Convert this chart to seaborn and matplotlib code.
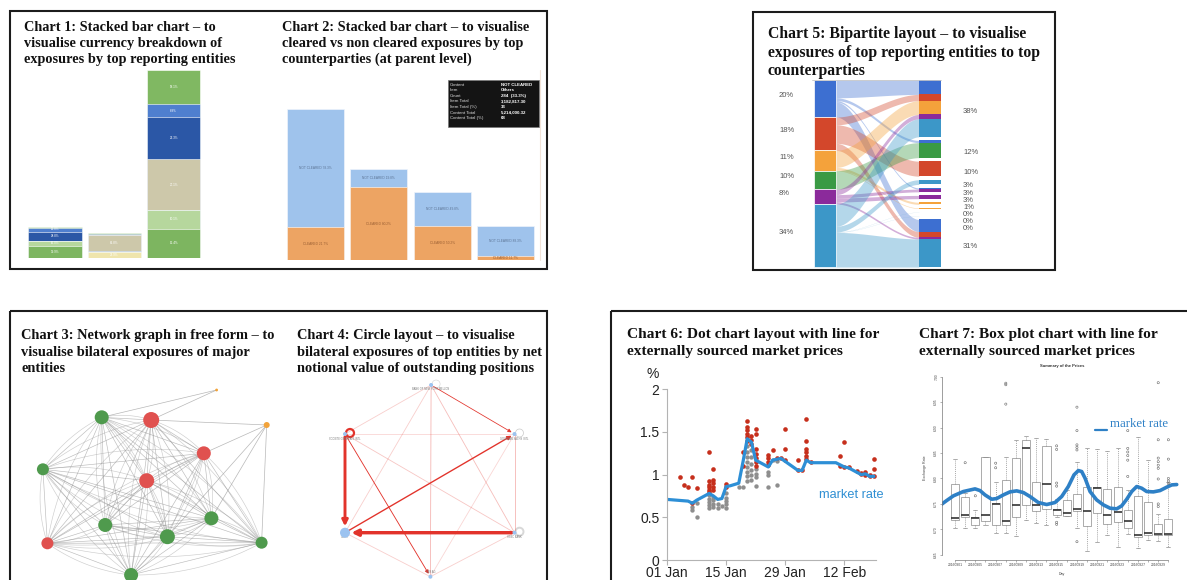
import numpy as np
import pandas as pd
import matplotlib
matplotlib.use("Agg")
import matplotlib.pyplot as plt
import matplotlib.dates as mdates
from matplotlib.patches import Rectangle, Circle
import seaborn as sns
from itertools import combinations

# ---------------- Chart 1: currency breakdown by reporting entity ----------------
entities = ["Entity A", "Entity B", "Entity C"]
currencies = ["CAD", "EUR", "GBP", "AUD", "USD", "JPY", "CHF", "Other"]
ccy_colors = ["#efe5ad", "#7db560", "#b6d79d", "#4f83d6", "#cdc8aa", "#2b57a6", "#4f7fcf", "#80b862"]
exp_cad = [0, 6, 0]
exp_eur = [12.5, 0, 29]
exp_gbp = [5, 0, 19]
exp_aud = [0, 1.5, 0]
exp_usd = [0, 15.5, 51]
exp_jpy = [9, 0, 42]
exp_chf = [4, 1.5, 13]
exp_oth = [0.8, 0.6, 34]

# ---------------- Chart 2: cleared vs non cleared ----------------
counterparties = ["CP 1", "CP 2", "CP 3", "Others"]
cleared = [3.27, 7.27, 3.43, 0.40]
not_cleared = [11.80, 1.80, 3.40, 3.03]
tip_keys = ["Content", "Item", "Count", "Item Total", "Item Total (%)", "Content Total", "Content Total (%)"]
tip_vals = ["NOT CLEARED", "Others", "284  (33.3%)", "3,182,817.30", "33", "5,214,000.32", "68"]

# ---------------- Chart 5: bipartite flows ----------------
src_labels = ["20%", "18%", "11%", "10%", "8%", "34%"]
src_values = [20, 18, 11, 10, 8, 34]
src_colors = ["#3d6fd1", "#d3472b", "#f4a23b", "#3a9a44", "#8b2a9b", "#3c97c8"]
tgt_labels = ["38%", "12%", "10%", "3%", "3%", "3%", "1%", "0%", "0%", "0%", "31%"]
flow_src = [0, 0, 0, 0, 1, 1, 1, 2, 2, 2, 3, 4, 4, 4, 4, 5, 5, 5, 5, 5]
flow_tgt = [0, 1, 4, 10, 0, 2, 10, 0, 6, 7, 1, 0, 4, 5, 10, 0, 3, 8, 9, 10]
flow_val = [9.6, 1.5, 0.8, 8.1, 4.2, 10.0, 3.8, 9.2, 1.4, 0.4, 10.0,
            2.9, 1.8, 2.2, 1.1, 12.0, 3.1, 0.1, 0.1, 18.7]

# ---------------- Chart 3: free form network ----------------
net_x = [101.7, 151.2, 216.6, 266.7, 203.8, 42.9, 146.7, 105.2, 211.4, 167.4, 47.4, 261.6, 131.1]
net_y = [417.3, 420.0, 390.0, 425.0, 453.3, 469.3, 480.7, 525.0, 518.3, 536.7, 543.3, 542.7, 575.0]
net_weight = [49, 64, 2, 9, 49, 36, 56, 49, 49, 56, 36, 36, 49]
net_type = ["g", "r", "o", "o", "r", "g", "r", "g", "g", "g", "r", "g", "g"]
net_extra_src = [2, 2, 3, 3, 3, 3, 3]
net_extra_dst = [0, 1, 1, 4, 8, 9, 11]

# ---------------- Chart 4: circle layout ----------------
circ_names = ["BANK OF NEW YORK MELLON", "GOLDMAN SACHS INTL", "HSBC BANK", "UBS AG", "Others", "SOCIETE GENERALE INTL"]
circ_x = [431.1, 514.5, 514.5, 430.4, 345.0, 345.0]
circ_y = [385.0, 434.0, 532.7, 576.7, 532.7, 434.0]
circ_weight = [4, 4, 4, 4, 25, 4]
circ_src = [5, 2, 4, 5, 0, 1, 0, 0, 0, 0, 5, 5, 1, 4, 2]
circ_dst = [4, 4, 1, 3, 1, 2, 3, 2, 4, 5, 2, 1, 3, 3, 3]
circ_w = [3.0, 3.5, 1.4, 0.9, 0.8, 0.6, 0.6, 0.5, 0.3, 0.3, 0.4, 0.2, 0.2, 0.3, 0.3]
loop_nodes = [5, 1, 2, 0]
loop_w = [1.6, 0.5, 1.4, 0.4]
loop_colors = ["#e2332b", "#c8c8c8", "#d8d8d8", "#d0d0d0"]

# ---------------- Chart 6: dot chart with market rate ----------------
line_day = [0, 5, 6, 7, 10, 11, 12, 13, 14, 15, 17, 18, 19, 20, 21, 24, 25, 27, 31, 32, 33, 34, 40, 42, 43, 46, 47, 48, 49]
line_val = [0.71, 0.69, 0.665, 0.70, 0.78, 0.75, 0.71, 0.72, 0.86, 0.87, 0.90, 1.15, 1.42, 1.38, 1.17,
            1.09, 1.17, 1.19, 1.05, 1.05, 1.17, 1.14, 1.14, 1.09, 1.08, 1.00, 1.01, 0.98, 0.98]
red_day = [3, 4, 5, 6, 6, 7,
           10, 10, 10, 10, 10, 10, 11, 11, 11, 11, 11, 14, 14, 18, 18,
           19, 19, 19, 19, 19, 19, 20, 20, 20, 21, 21, 21, 21, 21, 21, 21,
           24, 24, 24, 24, 25, 26, 27, 28, 28, 28, 31, 31, 32,
           33, 33, 33, 33, 33, 33, 34, 41, 41, 42, 42, 43, 45, 46, 46, 47, 47, 48, 48, 49, 49, 49]
red_val = [0.977, 0.879, 0.852, 0.977, 0.664, 0.840,
           1.27, 0.92, 0.88, 0.85, 0.82, 0.80, 1.07, 0.94, 0.90, 0.86, 0.82, 0.89, 0.85, 1.10, 1.26,
           1.63, 1.56, 1.52, 1.48, 1.44, 1.39, 1.45, 1.41, 1.36, 1.53, 1.48, 1.30, 1.24, 1.19, 1.15, 1.10,
           1.23, 1.19, 1.15, 1.11, 1.29, 1.19, 1.19, 1.535, 1.30, 1.17, 1.17, 1.05, 1.05,
           1.65, 1.39, 1.30, 1.26, 1.22, 1.18, 1.15, 1.22, 1.10, 1.38, 1.09, 1.09, 1.04, 1.01, 1.02,
           1.03, 1.00, 0.99, 1.00, 1.18, 1.07, 0.98]
gray_day = [6, 6, 7, 7, 10, 10, 10, 10, 10, 11, 11, 11, 11, 12, 12, 13, 14, 14, 14, 14, 14, 17, 18,
            19, 19, 19, 19, 19, 19, 19, 19, 20, 20, 20, 20, 20, 20, 21, 21, 21, 21, 24, 24, 24, 25, 26, 26]
gray_val = [0.625, 0.59, 0.508, 0.664, 0.76, 0.72, 0.68, 0.64, 0.61, 0.74, 0.70, 0.66, 0.625, 0.656, 0.605,
            0.63, 0.78, 0.73, 0.69, 0.656, 0.61, 0.859, 0.85,
            1.33, 1.27, 1.21, 1.15, 1.09, 1.035, 0.98, 0.93, 1.29, 1.21, 1.13, 1.05, 0.996, 0.94,
            1.07, 1.01, 0.97, 0.867, 1.035, 0.996, 0.859, 1.17, 1.16, 0.879]

# ---------------- Chart 7: box plot of prices ----------------
days7 = ["20160901", "20160902", "20160905", "20160906", "20160907", "20160908", "20160909", "20160912",
         "20160913", "20160914", "20160915", "20160916", "20160919", "20160920", "20160921", "20160922",
         "20160923", "20160926", "20160927", "20160928", "20160929", "20160930"]
box_lo = [6.702, 6.702, 6.702, 6.709, 6.693, 6.693, 6.687, 6.719, 6.712, 6.709, 6.725,
          6.727, 6.702, 6.657, 6.676, 6.689, 6.666, 6.691, 6.663, 6.679, 6.678, 6.666]
box_q1 = [6.719, 6.724, 6.709, 6.717, 6.709, 6.708, 6.725, 6.747, 6.736, 6.741, 6.729,
          6.727, 6.737, 6.707, 6.733, 6.711, 6.715, 6.702, 6.686, 6.689, 6.689, 6.689]
box_med = [6.722, 6.729, 6.722, 6.729, 6.750, 6.716, 6.747, 6.859, 6.747, 6.789, 6.738,
           6.732, 6.740, 6.737, 6.782, 6.729, 6.735, 6.717, 6.689, 6.693, 6.691, 6.691]
box_q3 = [6.789, 6.763, 6.725, 6.843, 6.751, 6.797, 6.841, 6.876, 6.794, 6.864, 6.741,
          6.758, 6.770, 6.783, 6.784, 6.779, 6.784, 6.738, 6.766, 6.753, 6.711, 6.720]
box_hi = [6.838, 6.771, 6.738, 6.843, 6.794, 6.843, 6.876, 6.884, 6.879, 6.877, 6.760,
          6.778, 6.833, 6.859, 6.857, 6.853, 6.859, 6.778, 6.881, 6.836, 6.730, 6.794]
out_pos = [1, 2, 4, 4, 5, 5, 5, 10, 10, 10, 10, 10, 10, 12, 12, 12, 12, 12, 12,
           17, 17, 17, 17, 17, 17, 20, 20, 20, 20, 20, 20, 20, 20, 20, 21, 21, 21, 21, 21]
out_val = [6.831, 6.766, 6.830, 6.821, 6.987, 6.984, 6.946, 6.864, 6.857, 6.791, 6.785, 6.714, 6.710,
           6.940, 6.894, 6.866, 6.861, 6.856, 6.676, 6.894, 6.859, 6.852, 6.845, 6.836, 6.804,
           6.988, 6.876, 6.840, 6.833, 6.826, 6.820, 6.799, 6.750, 6.745, 6.876, 6.838, 6.800, 6.795, 6.790]
mr_pos = [-1.54, -0.82, -0.16, 0.82, 1.97, 2.46, 2.95, 3.61, 4.10, 4.76, 5.41, 6.07, 6.73, 7.38, 8.20,
          9.02, 9.84, 10.50, 11.15, 11.71, 12.14, 12.47, 12.80, 13.29, 13.94, 14.60, 15.26, 15.91,
          16.40, 16.90, 17.39, 17.88, 18.37, 18.86, 19.52, 20.18, 20.83, 21.33, 21.82]
mr_val = [6.7462, 6.7567, 6.7659, 6.7744, 6.7796, 6.7763, 6.7678, 6.7593, 6.7606, 6.7678, 6.7737,
          6.7757, 6.7724, 6.7646, 6.7528, 6.7489, 6.7528, 6.7646, 6.7842, 6.8071, 6.8156, 6.8136,
          6.8005, 6.7744, 6.7580, 6.7482, 6.7417, 6.7404, 6.7462, 6.7593, 6.7744, 6.7842, 6.7809,
          6.7744, 6.7737, 6.7763, 6.7829, 6.7874, 6.7881]

# ---------------- figure ----------------
W, H = 1187, 580
sns.set_theme(style="white")
plt.rcParams["font.family"] = ["Liberation Sans", "DejaVu Sans"]
SERIF = ["Liberation Serif", "DejaVu Serif"]

fig = plt.figure(figsize=(W / 100, H / 100), dpi=100)
fig.patch.set_facecolor("white")
renderer = fig.canvas.get_renderer()


def px_axes(x0, y0, x1, y1):
    ax = fig.add_axes([x0 / W, 1 - y1 / H, (x1 - x0) / W, (y1 - y0) / H])
    ax.patch.set_alpha(0)
    return ax


def pixel_space(ax, x0, y0, x1, y1):
    ax.set_xlim(x0, x1)
    ax.set_ylim(y1, y0)
    ax.axis("off")


bg = px_axes(0, 0, W, H)
pixel_space(bg, 0, 0, W, H)

# panel frames
for x0, y0, x1, y1 in [(10, 11, 547, 269), (753, 12, 1055, 270), (10, 311, 547, 640), (611, 311, 1240, 640)]:
    bg.add_patch(Rectangle((x0, y0), x1 - x0, y1 - y0, fill=False, ec="#1c1c1c", lw=1.5))


def title(x, y, text, width, spacing):
    t = bg.text(x, y, text, ha="left", va="top", fontsize=10, fontweight="bold",
                family=SERIF, color="#111111")
    w = t.get_window_extent(renderer).width
    t.set_fontsize(10 * width / w)
    n = text.count("\n") + 1
    if n > 1:
        h_all = t.get_window_extent(renderer).height
        one = bg.text(0, 0, text.split("\n")[0], fontsize=t.get_fontsize(), fontweight="bold", family=SERIF)
        h1 = one.get_window_extent(renderer).height
        one.remove()
        t.set_linespacing(1.2 * spacing / ((h_all - h1) / (n - 1)))


title(23.8, 21, "Chart 1: Stacked bar chart – to\nvisualise currency breakdown of\nexposures by top reporting entities", 211, 16.3)
title(281.6, 21, "Chart 2: Stacked bar chart – to visualise\ncleared vs non cleared exposures by top\ncounterparties (at parent level)", 246, 16.3)
title(767.7, 26, "Chart 5: Bipartite layout – to visualise\nexposures of top reporting entities to top\ncounterparties", 271.7, 18.7)
title(21, 329.5, "Chart 3: Network graph in free form – to\nvisualise bilateral exposures of major\nentities", 254.7, 16.7)
title(297.2, 329.5, "Chart 4: Circle layout – to visualise\nbilateral exposures of top entities by net\nnotional value of outstanding positions", 245.7, 16.7)
title(626.7, 328, "Chart 6: Dot chart layout with line for\nexternally sourced market prices", 251.9, 17.7)
title(919.3, 328, "Chart 7: Box plot chart with line for\nexternally sourced market prices", 238.9, 17.7)

# ---------------- Chart 1 ----------------
ax1 = px_axes(25.3, 70, 203.4, 258)
series = np.array([exp_cad, exp_eur, exp_gbp, exp_aud, exp_usd, exp_jpy, exp_chf, exp_oth])
cum = series.cumsum(axis=0)
for i in range(len(currencies) - 1, -1, -1):
    sns.barplot(x=entities, y=cum[i], color=ccy_colors[i], saturation=1, width=0.9,
                edgecolor="white", linewidth=0.4, errorbar=None, ax=ax1)
tot1 = series.sum(axis=0)
for j in range(len(entities)):
    for i in range(len(currencies)):
        v = series[i, j]
        if v >= 4:
            ax1.text(j, cum[i, j] - v / 2, f"{v / tot1[j] * 100:.1f}%", ha="center", va="center",
                     fontsize=2.2, color="white")
ax1.set_xlim(-0.5, 2.5)
ax1.set_ylim(0, 188)
ax1.axis("off")

# ---------------- Chart 2 ----------------
ax2 = px_axes(283.6, 70, 537.5, 260)
tot2 = np.add(cleared, not_cleared)
sns.barplot(x=counterparties, y=tot2, color="#9fc3ec", saturation=1, width=0.9, errorbar=None,
            edgecolor="#eef4fb", linewidth=0.5, ax=ax2)
sns.barplot(x=counterparties, y=cleared, color="#eda463", saturation=1, width=0.9, errorbar=None,
            edgecolor="#fbefe4", linewidth=0.5, ax=ax2)
for j in range(len(counterparties)):
    ax2.text(j, cleared[j] + not_cleared[j] / 2, f"NOT CLEARED {not_cleared[j] / tot2[j] * 100:.1f}%",
             ha="center", va="center", fontsize=2.3, color="#5d7596")
    ax2.text(j, cleared[j] / 2, f"CLEARED {cleared[j] / tot2[j] * 100:.1f}%",
             ha="center", va="center", fontsize=2.3, color="#9a5f33")
ax2.set_xlim(-0.5, 3.5)
ax2.set_ylim(0, 19)
ax2.axis("off")
bg.plot([540, 540], [70, 260], color="#f1e3d8", lw=0.8)
bg.add_patch(Rectangle((447.7, 80), 91.7, 47.3, fc="#141414", ec="#777777", lw=0.5))
for k, (a, b) in enumerate(zip(tip_keys, tip_vals)):
    yy = 84.5 + k * 5.6
    bg.text(450, yy, a, fontsize=3.2, color="#dddddd", va="center")
    bg.text(500.7, yy, b, fontsize=3.2, color="white", va="center", fontweight="bold")

# ---------------- Chart 5 ----------------
ax5 = px_axes(760, 75, 1050, 268)
pixel_space(ax5, 760, 75, 1050, 268)
LX0, LX1, RX0, RX1 = 814, 836, 919, 941
TOP, BOT = 80, 267
nf = len(flow_val)
k_left = (BOT - TOP) / sum(src_values)
tgt_tot = np.zeros(len(tgt_labels))
for f in range(nf):
    tgt_tot[flow_tgt[f]] += flow_val[f]
k_right = 0.81 * k_left
gap = ((BOT - TOP) - k_right * tgt_tot.sum()) / (len(tgt_labels) - 1)
src_top = TOP + k_left * np.concatenate([[0], np.cumsum(src_values)[:-1]])
tgt_top = TOP + np.concatenate([[0], np.cumsum(tgt_tot * k_right + gap)[:-1]])

lpos, rpos = {}, {}
off = src_top.copy()
for f in sorted(range(nf), key=lambda f: (flow_src[f], flow_tgt[f])):
    lpos[f] = off[flow_src[f]]
    off[flow_src[f]] += flow_val[f] * k_left
off = tgt_top.copy()
for f in sorted(range(nf), key=lambda f: (flow_tgt[f], flow_src[f])):
    rpos[f] = off[flow_tgt[f]]
    off[flow_tgt[f]] += flow_val[f] * k_right

t = np.linspace(0, 1, 60)
ease = 3 * t ** 2 - 2 * t ** 3
xs = LX1 + (RX0 - LX1) * t
for f in range(nf):
    y0a, y0b = lpos[f], lpos[f] + flow_val[f] * k_left
    y1a, y1b = rpos[f], rpos[f] + flow_val[f] * k_right
    col = src_colors[flow_src[f]]
    ax5.fill_between(xs, y0a + (y1a - y0a) * ease, y0b + (y1b - y0b) * ease, color=col, alpha=0.38, lw=0)
    ax5.add_patch(Rectangle((RX0, y1a), RX1 - RX0, y1b - y1a, fc=col, ec="none"))
for i in range(len(src_values)):
    ax5.add_patch(Rectangle((LX0, src_top[i]), LX1 - LX0, src_values[i] * k_left,
                            fc=src_colors[i], ec="white", lw=0.5))
    ax5.text(779, src_top[i] + src_values[i] * k_left / 2, src_labels[i], fontsize=5.5,
             color="#555555", va="bottom", ha="left")
ax5.plot([812, 941], [TOP, TOP], color="#c8c8c8", lw=0.6)
prev = -1e9
for i in range(len(tgt_labels)):
    c = max(tgt_top[i] + tgt_tot[i] * k_right / 2, prev + 7)
    prev = c
    ax5.text(963, c, tgt_labels[i], fontsize=5.5, color="#555555", va="top", ha="left")

# ---------------- Chart 3 ----------------
ax3 = px_axes(15, 370, 300, 600)
pixel_space(ax3, 15, 370, 300, 600)
pts = np.column_stack([net_x, net_y])
main = [i for i, k in enumerate(net_type) if k != "o"]
centre = pts[main].mean(axis=0)
tt = np.linspace(0, 1, 30)[:, None]


def arc(p, q, bend):
    mid = (p + q) / 2
    d = q - p
    nrm = np.array([-d[1], d[0]])
    if np.dot(nrm, mid - centre) < 0:
        nrm = -nrm
    ctrl = mid + nrm * bend
    return (1 - tt) ** 2 * p + 2 * (1 - tt) * tt * ctrl + tt ** 2 * q


for a, b in combinations(main, 2):
    ax3.plot(*zip(pts[a], pts[b]), color="#8f8f8f", lw=0.45, alpha=0.6)
    c = arc(pts[a], pts[b], 0.13)
    ax3.plot(c[:, 0], c[:, 1], color="#9c9c9c", lw=0.45, alpha=0.5)
for a, b in zip(net_extra_src, net_extra_dst):
    ax3.plot(*zip(pts[a], pts[b]), color="#999999", lw=0.5, alpha=0.7)
node_col = {"g": "#4f9a4d", "r": "#e0514f", "o": "#f2a33a"}
ax3.scatter(net_x, net_y, s=np.array(net_weight) * 2.07, c=[node_col[k] for k in net_type],
            linewidths=0, zorder=3)

# ---------------- Chart 4 ----------------
ax4 = px_axes(290, 370, 545, 600)
pixel_space(ax4, 290, 370, 545, 600)
for s, d, w in zip(circ_src, circ_dst, circ_w):
    p, q = (circ_x[s], circ_y[s]), (circ_x[d], circ_y[d])
    if w >= 0.8:
        ax4.annotate("", xy=q, xytext=p,
                     arrowprops=dict(arrowstyle="-|>", color="#e2332b", lw=0.7 * w,
                                     mutation_scale=4 + 1.5 * w, shrinkA=2,
                                     shrinkB=np.sqrt(circ_weight[d]) * 0.72 + 1))
    else:
        ax4.plot(*zip(p, q), color="#e2332b", lw=0.6, alpha=0.12 + 0.4 * w)
for n, w, col in zip(loop_nodes, loop_w, loop_colors):
    ax4.add_patch(Circle((circ_x[n] + 5, circ_y[n] - 1), 4, fill=False, ec=col, lw=w))
ax4.scatter(circ_x, circ_y, s=np.array(circ_weight) * 2.07, c="#9cc3f0", linewidths=0, zorder=4)
for i, nm in enumerate(circ_names):
    # the bottom node sits on the lower edge, so its name goes above it
    dy = -5 if circ_y[i] > 570 else 4.5
    ax4.text(circ_x[i], circ_y[i] + dy, nm, fontsize=1.8, color="#777777", ha="center", va="center")

# ---------------- Chart 6 ----------------
base = pd.Timestamp("2014-01-01")
to_date = lambda d: base + pd.to_timedelta(d, unit="D")
ax6 = px_axes(667, 389.3, 876, 560)
sns.scatterplot(x=to_date(gray_day), y=gray_val, color="#8e8e8e", s=10, linewidth=0, ax=ax6)
sns.lineplot(x=to_date(line_day), y=line_val, color="#2d8fd6", linewidth=2.3, sort=False,
             estimator=None, ax=ax6)
sns.scatterplot(x=to_date(red_day), y=red_val, color="#c62f1c", s=11, linewidth=0, ax=ax6)
ax6.set_xlim(base, to_date(49.5))
ax6.set_ylim(0, 2)
ax6.set_xticks(to_date([0, 14, 28, 42]))
ax6.xaxis.set_major_formatter(mdates.DateFormatter("%d %b"))
ax6.set_yticks([0, 0.5, 1, 1.5, 2])
ax6.set_yticklabels(["0", "0.5", "1", "1.5", "2"])
for side in ["top", "right"]:
    ax6.spines[side].set_visible(False)
for side in ["left", "bottom"]:
    ax6.spines[side].set_color("#b3b3b3")
    ax6.spines[side].set_linewidth(0.8)
ax6.tick_params(axis="both", bottom=True, left=True, length=3.5, width=0.8, color="#b3b3b3",
                labelsize=10, pad=2, labelcolor="#222222")
ax6.tick_params(axis="x", pad=1)
bg.text(653, 374, "%", fontsize=10, color="#222222", ha="center", va="center")
bg.text(851.5, 494.5, "market rate", fontsize=9.2, color="#2f8fd3", ha="center", va="center")

# ---------------- Chart 7 ----------------
ax7 = px_axes(941.8, 372, 1181.6, 560)
rows = []
for i in range(len(days7)):
    for v in (box_lo[i], box_q1[i], box_med[i], box_q3[i], box_hi[i]):
        rows.append((i, v))
df7 = pd.DataFrame(rows, columns=["pos", "rate"])
sns.boxplot(data=df7, x="pos", y="rate", native_scale=True, whis=(0, 100), width=0.8,
            color="white", linecolor="#8a8a8a", linewidth=0.5, fliersize=0,
            medianprops=dict(color="#333333", linewidth=1.2),
            whiskerprops=dict(linestyle=(0, (1.5, 1.5))), ax=ax7)
ax7.scatter(out_pos, out_val, s=2.5, facecolors="none", edgecolors="#666666", linewidths=0.4, zorder=3)
sns.lineplot(x=mr_pos, y=mr_val, color="#2e80c6", linewidth=2.6, sort=False, estimator=None, ax=ax7)
ax7.set_xlim(-1.3, 22.3)
ax7.set_ylim(6.640, 7.009)
yt = np.round(np.arange(6.65, 7.001, 0.05), 2)
ax7.set_yticks(yt)
ax7.set_yticklabels([f"{v:.2f}" for v in yt], rotation=90, va="center")
ax7.set_xticks(range(len(days7)))
ax7.set_xticklabels([d if i % 2 == 0 else "" for i, d in enumerate(days7)])
ax7.set_xlabel("")
ax7.set_ylabel("")
for side in ["top", "right"]:
    ax7.spines[side].set_visible(False)
for side in ["left", "bottom"]:
    ax7.spines[side].set_color("#777777")
    ax7.spines[side].set_linewidth(0.5)
ax7.spines["left"].set_bounds(6.65, 7.0)
ax7.spines["bottom"].set_bounds(0, len(days7) - 1)
ax7.tick_params(axis="both", bottom=True, left=True, length=1.5, width=0.4, color="#777777",
                labelsize=2.4, pad=1, labelcolor="#444444")
bg.text(1061.7, 366.5, "Summary of the Prices", fontsize=3, fontweight="bold", color="#333333",
        ha="center", va="center")
bg.text(925, 468, "Exchange Rate", fontsize=2.6, color="#444444", rotation=90, ha="center", va="center")
bg.text(1061.7, 574, "Day", fontsize=2.6, color="#444444", ha="center", va="center")
bg.plot([1095, 1107], [430, 430], color="#2e80c6", lw=1.6)
bg.text(1110, 424, "market rate", fontsize=9.3, family=SERIF, color="#2e80c6", ha="left", va="center")

fig.savefig("out.png", dpi=100)
